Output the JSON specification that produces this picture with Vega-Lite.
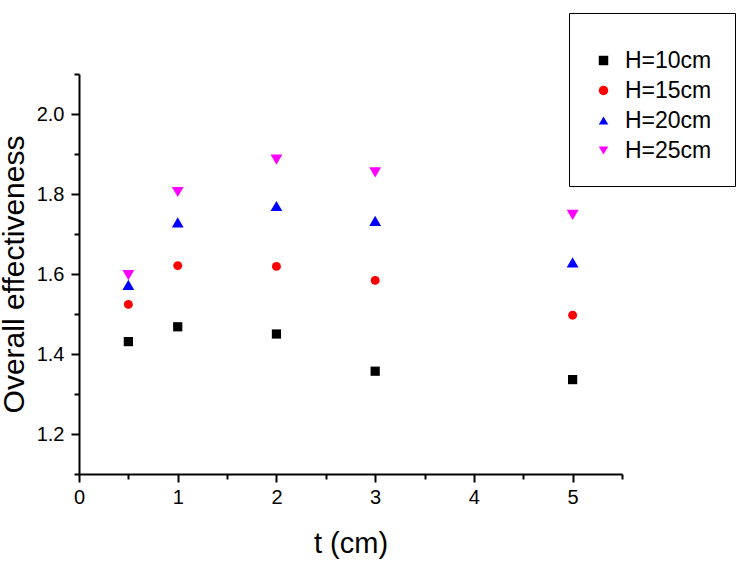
{
  "$schema": "https://vega.github.io/schema/vega-lite/v6.json",
  "width": 543,
  "height": 400,
  "autosize": {"type": "none"},
  "padding": {"left": 79, "top": 74, "right": 114, "bottom": 98},
  "background": "white",
  "data": {
    "values": [
      {"t": 0.5, "E": 1.431, "series": "H=10cm"},
      {"t": 1, "E": 1.468, "series": "H=10cm"},
      {"t": 2, "E": 1.450, "series": "H=10cm"},
      {"t": 3, "E": 1.357, "series": "H=10cm"},
      {"t": 5, "E": 1.336, "series": "H=10cm"},
      {"t": 0.5, "E": 1.524, "series": "H=15cm"},
      {"t": 1, "E": 1.621, "series": "H=15cm"},
      {"t": 2, "E": 1.619, "series": "H=15cm"},
      {"t": 3, "E": 1.584, "series": "H=15cm"},
      {"t": 5, "E": 1.497, "series": "H=15cm"},
      {"t": 0.5, "E": 1.573, "series": "H=20cm"},
      {"t": 1, "E": 1.729, "series": "H=20cm"},
      {"t": 2, "E": 1.770, "series": "H=20cm"},
      {"t": 3, "E": 1.733, "series": "H=20cm"},
      {"t": 5, "E": 1.629, "series": "H=20cm"},
      {"t": 0.5, "E": 1.597, "series": "H=25cm"},
      {"t": 1, "E": 1.805, "series": "H=25cm"},
      {"t": 2, "E": 1.886, "series": "H=25cm"},
      {"t": 3, "E": 1.854, "series": "H=25cm"},
      {"t": 5, "E": 1.748, "series": "H=25cm"}
    ]
  },
  "encoding": {
    "x": {
      "field": "t", "type": "quantitative",
      "scale": {"domain": [0, 5.5], "nice": false, "zero": false},
      "axis": {
        "title": "t (cm)",
        "values": [0, 0.5, 1, 1.5, 2, 2.5, 3, 3.5, 4, 4.5, 5, 5.5],
        "labelExpr": "datum.value % 1 === 0 ? format(datum.value, 'd') : ''",
        "tickSize": {"condition": {"test": "datum.value % 1 === 0", "value": 8}, "value": 5},
        "domainColor": "black",
        "domainWidth": 2,
        "tickColor": "black",
        "tickWidth": 2,
        "labelFont": "Liberation Sans",
        "labelFontSize": 20,
        "labelColor": "black",
        "labelPadding": 5,
        "titlePadding": 22,
        "titleFontSize": 29
      }
    },
    "y": {
      "field": "E", "type": "quantitative",
      "scale": {"domain": [1.1, 2.1], "nice": false, "zero": false},
      "axis": {
        "title": "Overall effectiveness",
        "values": [1.1, 1.2, 1.3, 1.4, 1.5, 1.6, 1.7, 1.8, 1.9, 2.0, 2.1],
        "labelExpr": "abs(datum.value * 5 - round(datum.value * 5)) < 0.01 ? format(datum.value, '.1f') : ''",
        "tickSize": {"condition": {"test": "abs(datum.value * 5 - round(datum.value * 5)) < 0.01", "value": 8}, "value": 5},
        "domainColor": "black",
        "domainWidth": 2,
        "tickColor": "black",
        "tickWidth": 2,
        "labelFont": "Liberation Sans",
        "labelFontSize": 20,
        "labelColor": "black",
        "labelPadding": 7,
        "titlePadding": 7,
        "titleFontSize": 30
      }
    },
    "color": {
      "field": "series", "type": "nominal",
      "scale": {"domain": ["H=10cm", "H=15cm", "H=20cm", "H=25cm"], "range": ["#000000", "#ff0000", "#0000ff", "#ff00ff"]},
      "legend": {
        "orient": "none",
        "legendX": 490,
        "legendY": -61,
        "title": " ",
        "titleFontSize": 9,
        "titlePadding": 4,
        "padding": 23,
        "strokeColor": "black",
        "fillColor": "white",
        "labelFont": "Liberation Sans",
        "labelFontSize": 23,
        "labelColor": "black",
        "labelOffset": 10,
        "rowPadding": 6,
        "symbolSize": 90
      }
    },
    "shape": {
      "field": "series", "type": "nominal",
      "scale": {"domain": ["H=10cm", "H=15cm", "H=20cm", "H=25cm"], "range": ["square", "circle", "triangle-up", "triangle-down"]}
    }
  },
  "layer": [
    {
      "transform": [{"filter": "datum.series === 'H=10cm'"}],
      "mark": {"type": "point", "filled": true, "opacity": 1, "size": 85}
    },
    {
      "transform": [{"filter": "datum.series === 'H=15cm'"}],
      "mark": {"type": "point", "filled": true, "opacity": 1, "size": 80}
    },
    {
      "transform": [{"filter": "datum.series === 'H=20cm' || datum.series === 'H=25cm'"}],
      "mark": {"type": "point", "filled": true, "opacity": 1, "size": 140}
    }
  ],
  "config": {
    "view": {"stroke": null},
    "axis": {
      "grid": false,
      "labelOverlap": false,
      "labelFlush": false,
      "titleFont": "Liberation Sans",
      "titleFontWeight": "normal",
      "titleColor": "black"
    }
  }
}
